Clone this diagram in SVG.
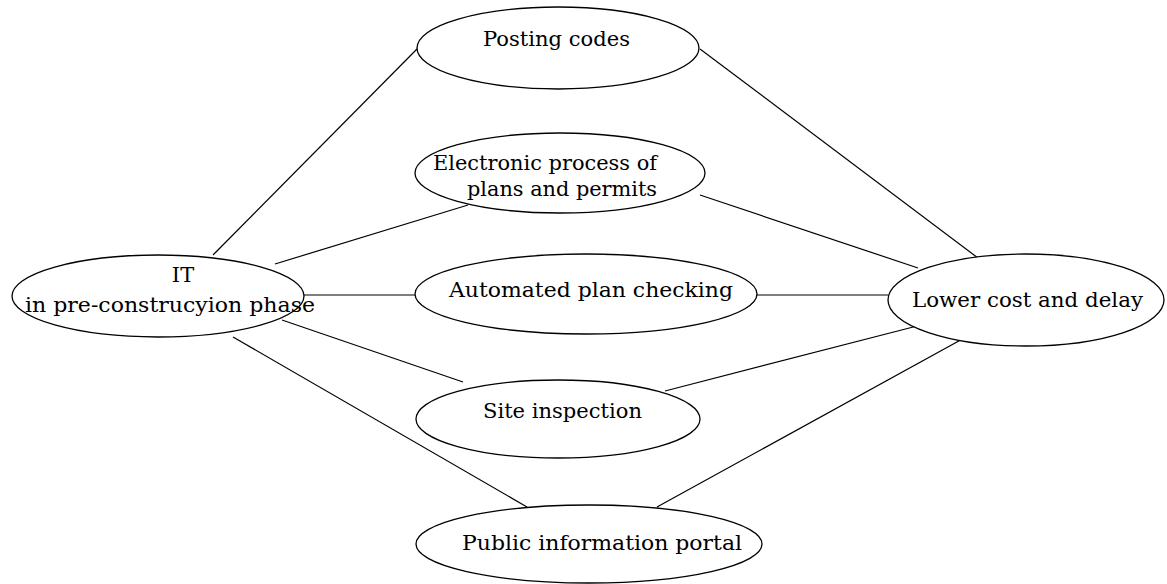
<svg xmlns="http://www.w3.org/2000/svg" width="1167" height="584" viewBox="0 0 1167 584">
<style>
.n{fill:#fff;stroke:#000;stroke-width:1.3}
.c line{stroke:#000;stroke-width:1.2}
text{font-family:"DejaVu Serif","Liberation Serif",serif;font-size:21px;fill:#000}
</style>
<rect width="1167" height="584" fill="#fff"/>
<g class="c" id="connectors">
<line x1="213" y1="255" x2="417" y2="49"/>
<line x1="700" y1="49" x2="978" y2="258"/>
<line x1="275" y1="264" x2="468" y2="205"/>
<line x1="700" y1="195" x2="918" y2="268"/>
<line x1="304" y1="295" x2="416" y2="295"/>
<line x1="756" y1="295" x2="888" y2="295"/>
<line x1="282" y1="320" x2="463" y2="382"/>
<line x1="665" y1="391" x2="921" y2="325"/>
<line x1="233" y1="337" x2="527" y2="507"/>
<line x1="657" y1="507" x2="966" y2="337"/>
</g>
<g id="it"><ellipse class="n" cx="158" cy="296" rx="146" ry="41"/>
<text x="183" y="282" text-anchor="middle">IT</text>
<text x="25" y="312" textLength="290" lengthAdjust="spacingAndGlyphs">in pre-construcyion phase</text></g>
<g id="posting"><ellipse class="n" cx="558" cy="48" rx="141" ry="41"/>
<text x="483" y="46" textLength="147" lengthAdjust="spacingAndGlyphs">Posting codes</text></g>
<g id="electronic"><ellipse class="n" cx="560" cy="173" rx="145" ry="40"/>
<text x="433" y="170" textLength="224" lengthAdjust="spacingAndGlyphs">Electronic process of</text>
<text x="467" y="196" textLength="190" lengthAdjust="spacingAndGlyphs">plans and permits</text></g>
<g id="automated"><ellipse class="n" cx="586" cy="294" rx="171" ry="40"/>
<text x="449" y="297" textLength="284" lengthAdjust="spacingAndGlyphs">Automated plan checking</text></g>
<g id="lower"><ellipse class="n" cx="1026" cy="300" rx="138" ry="46"/>
<text x="912" y="307" textLength="231" lengthAdjust="spacingAndGlyphs">Lower cost and delay</text></g>
<g id="site"><ellipse class="n" cx="558" cy="419" rx="142" ry="39"/>
<text x="483" y="418" textLength="159" lengthAdjust="spacingAndGlyphs">Site inspection</text></g>
<g id="public"><ellipse class="n" cx="589" cy="544" rx="173" ry="39"/>
<text x="462" y="550" textLength="280" lengthAdjust="spacingAndGlyphs">Public information portal</text></g>
</svg>
